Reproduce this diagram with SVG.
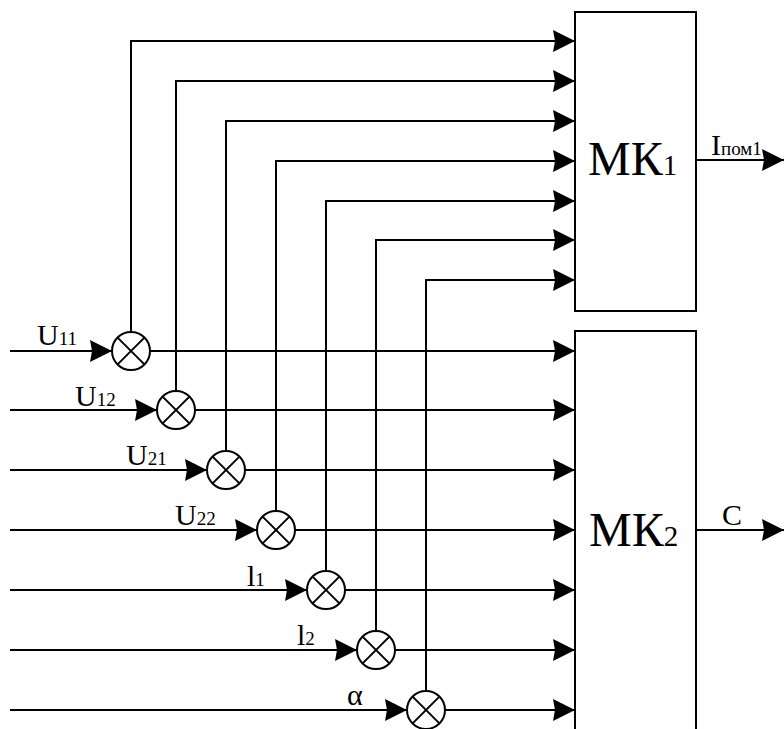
<svg xmlns="http://www.w3.org/2000/svg" width="784" height="729" viewBox="0 0 784 729">
<style>
.w{fill:none;stroke:#000;stroke-width:2;marker-end:url(#ah)}
.box{fill:#fff;stroke:#000;stroke-width:2}
.lb{font-size:30px}
.sb{font-size:19px}
.big{font-size:48px}
.bsb{font-size:29px}
</style>
<defs>
<marker id="ah" markerWidth="22" markerHeight="22" refX="22" refY="11" orient="auto" markerUnits="userSpaceOnUse" viewBox="0 0 22 22">
<path d="M0,0 L22,11 L0,22 L2,11 z" fill="#000"/>
</marker>
<g id="x"><circle r="19" fill="#fff" stroke="#000" stroke-width="2"/><path d="M-13.4,-13.4 L13.4,13.4 M-13.4,13.4 L13.4,-13.4" stroke="#000" stroke-width="2" fill="none"/></g>
</defs>
<rect width="784" height="729" fill="#fff"/>
<g id="connectors">
<path class="w" d="M10,351 H112"/>
<path class="w" d="M10,410 H157"/>
<path class="w" d="M10,470 H207"/>
<path class="w" d="M10,530 H257"/>
<path class="w" d="M10,590 H307"/>
<path class="w" d="M10,650 H357"/>
<path class="w" d="M10,710 H407"/>
<path class="w" d="M150,351 H575"/>
<path class="w" d="M195,410 H575"/>
<path class="w" d="M245,470 H575"/>
<path class="w" d="M295,530 H575"/>
<path class="w" d="M345,590 H575"/>
<path class="w" d="M395,650 H575"/>
<path class="w" d="M445,710 H575"/>
<path class="w" d="M131,332 V41 H575"/>
<path class="w" d="M176,391 V81 H575"/>
<path class="w" d="M226,451 V121 H575"/>
<path class="w" d="M276,511 V161 H575"/>
<path class="w" d="M326,571 V201 H575"/>
<path class="w" d="M376,631 V240 H575"/>
<path class="w" d="M426,691 V280 H575"/>
<path class="w" d="M696,160 H784"/>
<path class="w" d="M696,530 H784"/>
</g>
<g font-family="'Liberation Serif', 'DejaVu Serif', serif" fill="#000">
<g id="mk1"><rect class="box" x="575" y="12" width="121" height="299"/>
<text x="588" y="175" class="big">МК<tspan class="bsb">1</tspan></text></g>
<g id="mk2"><rect class="box" x="575" y="331" width="121" height="410"/>
<text x="589" y="546" class="big">МК<tspan class="bsb">2</tspan></text></g>
</g>
<g id="m1"><use href="#x" x="131" y="351"/></g>
<g id="m2"><use href="#x" x="176" y="410"/></g>
<g id="m3"><use href="#x" x="226" y="470"/></g>
<g id="m4"><use href="#x" x="276" y="530"/></g>
<g id="m5"><use href="#x" x="326" y="590"/></g>
<g id="m6"><use href="#x" x="376" y="650"/></g>
<g id="m7"><use href="#x" x="426" y="710"/></g>
<g id="labels" font-family="'Liberation Serif', 'DejaVu Serif', serif" fill="#000">
<text x="37" y="345" class="lb">U<tspan class="sb">11</tspan></text>
<text x="75" y="406" class="lb">U<tspan class="sb">12</tspan></text>
<text x="126" y="465" class="lb">U<tspan class="sb">21</tspan></text>
<text x="175" y="525" class="lb">U<tspan class="sb">22</tspan></text>
<text x="247" y="586" class="lb">l<tspan class="sb">1</tspan></text>
<text x="297" y="645" class="lb">l<tspan class="sb">2</tspan></text>
<text x="347" y="705" class="lb">α</text>
<text x="711" y="155" class="lb">I<tspan class="sb">пом1</tspan></text>
<text x="722" y="525" class="lb">C</text>
</g>
</svg>
